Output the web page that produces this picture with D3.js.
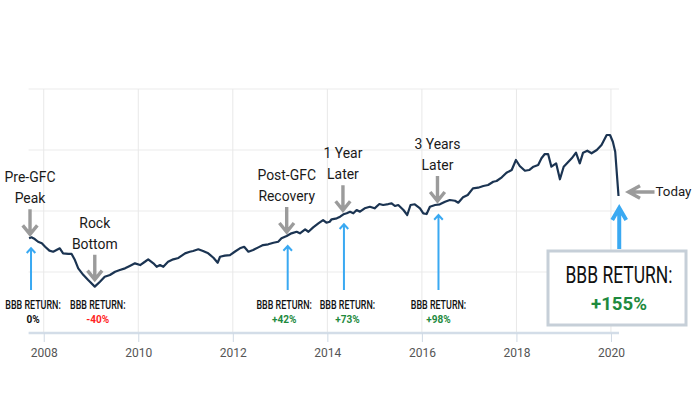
<!DOCTYPE html>
<html><head><meta charset="utf-8">
<script src="https://cdn.jsdelivr.net/npm/d3@7"></script>
<style>body{margin:0;background:#fff}svg{display:block;font-family:Roboto,"Liberation Sans",sans-serif}</style>
</head><body>
<svg id="c" width="700" height="400"></svg>
<script>
const dates = [2007.69,2007.74,2007.81,2007.88,2007.96,2008.03,2008.12,2008.20,2008.27,2008.34,2008.41,2008.52,2008.59,2008.66,2008.73,2008.84,2008.94,2009.08,2009.19,2009.29,2009.40,2009.51,2009.61,2009.72,2009.82,2009.93,2010.04,2010.14,2010.21,2010.32,2010.39,2010.46,2010.53,2010.63,2010.74,2010.85,2010.99,2011.09,2011.16,2011.27,2011.37,2011.48,2011.59,2011.68,2011.73,2011.83,2011.94,2012.04,2012.15,2012.24,2012.33,2012.43,2012.54,2012.64,2012.75,2012.86,2012.96,2013.03,2013.14,2013.24,2013.35,2013.42,2013.53,2013.60,2013.70,2013.81,2013.91,2013.98,2014.05,2014.09,2014.20,2014.27,2014.34,2014.41,2014.48,2014.55,2014.62,2014.69,2014.79,2014.90,2015.00,2015.10,2015.18,2015.29,2015.36,2015.43,2015.50,2015.61,2015.69,2015.76,2015.85,2015.96,2016.03,2016.10,2016.17,2016.28,2016.38,2016.49,2016.59,2016.70,2016.77,2016.87,2016.97,2017.08,2017.19,2017.30,2017.40,2017.51,2017.58,2017.69,2017.79,2017.90,2017.99,2018.07,2018.18,2018.27,2018.36,2018.46,2018.53,2018.60,2018.67,2018.74,2018.84,2018.92,2019.00,2019.10,2019.17,2019.26,2019.34,2019.41,2019.50,2019.59,2019.70,2019.80,2019.91,2019.98,2020.04,2020.09,2020.16];
const values = [77.6,78.4,77.0,74.8,73.5,70.7,67.5,66.6,68.0,69.4,65.3,64.8,64.8,59.8,53.0,47.5,43.4,38.0,42.0,46.1,47.5,50.2,51.6,53.0,54.9,57.1,55.7,58.4,60.4,57.1,54.3,55.7,54.3,58.4,60.4,61.5,65.3,66.6,67.2,68.6,67.2,65.3,61.7,57.6,62.5,63.4,63.9,66.6,69.4,70.7,66.6,68.0,70.2,72.1,72.7,74.0,74.8,77.6,79.5,81.7,83.0,81.7,85.0,83.0,86.6,89.9,92.6,90.4,91.2,93.2,94.0,95.3,97.3,98.1,99.4,98.1,100.8,99.4,102.2,103.5,102.2,105.7,104.9,105.7,106.3,104.1,104.9,100.8,96.7,104.9,105.5,102.2,98.1,97.5,103.5,104.9,105.5,107.6,109.0,108.4,106.8,111.2,113.1,118.6,119.1,120.5,121.3,124.0,124.6,127.6,131.4,133.6,141.8,136.9,133.0,133.6,136.3,137.7,143.2,146.7,146.7,136.3,139.1,126.0,136.3,140.4,143.2,147.8,139.1,147.8,149.4,147.3,150.0,154.1,162.3,162.3,156.8,148.6,112.3];
const tickYears = [2008,2010,2012,2014,2016,2018,2020];
const gridValues = [0,50,100,150,200];
const annotationLabels = [["Pre-GFC","Peak"],["Rock","Bottom"],["Post-GFC","Recovery"],["1 Year","Later"],["3 Years","Later"]];
const annotationDates = [2007.71,2009.08,2013.14,2014.33,2016.33];
const annotationReturns = ["0%","-40%","+42%","+73%","+98%"];
const annotationColors = ["#111111","#ff1f1f","#1e8a3e","#1e8a3e","#1e8a3e"];
const annotationBlue = [true,false,true,true,true];
const finalReturn = "+155%";
const todayLabel = "Today";
const returnTitle = "BBB RETURN:";

// style: horizontal nudge of the return labels relative to their arrows
const labelShift = [3,3,-2.5,4.5,1];

const svg = d3.select("#c");
const x = d3.scaleLinear().domain([2007.68,2020.17]).range([28.6,619]);
const y = d3.scaleLinear().domain([0,200]).range([333,89]);
const data = dates.map((d,i)=>({d, v:values[i]}));
const bis = d3.bisector(p=>p.d).center;
const valAt = t => data[bis(data,t)].v;

const GREY = "#9b9b9b", BLUE = "#3aa9f2";

// grid
svg.append("g").selectAll("line").data(gridValues.slice(1)).join("line")
  .attr("x1",x.range()[0]).attr("x2",x.range()[1])
  .attr("y1",d=>y(d)).attr("y2",d=>y(d))
  .attr("stroke","#ebebeb").attr("stroke-width",1);
svg.append("g").selectAll("line").data(tickYears).join("line")
  .attr("x1",d=>x(d)).attr("x2",d=>x(d)).attr("y1",y(200)).attr("y2",y(0))
  .attr("stroke","#e8e8e8").attr("stroke-width",1);

// x axis
const ax = svg.append("g").attr("transform",`translate(0,${y(0)})`)
  .call(d3.axisBottom(x).tickValues(tickYears).tickFormat(d3.format("d")).tickSize(9).tickPadding(6));
ax.select(".domain").attr("stroke","#d3dde8").attr("stroke-width",2.5).attr("d",`M${x.range()[0]},0H${x.range()[1]}`);
ax.selectAll(".tick line").attr("stroke","#cfd9e4").attr("stroke-width",1);
ax.selectAll(".tick text").attr("fill","#555").attr("font-size",12).attr("font-family","Roboto");

// line
svg.append("path").datum(data)
  .attr("d",d3.line().x(p=>x(p.d)).y(p=>y(p.v)))
  .attr("fill","none").attr("stroke","#1b3452").attr("stroke-width",2.2).attr("stroke-linejoin","round");

function txt(g,str,cx,cy,size,sx,opts={}){
  return g.append("text").text(str)
    .attr("transform",`translate(${cx},${cy}) scale(${sx},1)`)
    .attr("text-anchor",opts.anchor||"middle")
    .attr("font-size",size).attr("font-weight",opts.weight||400)
    .attr("fill",opts.fill||"#111");
}
function greyDown(g,cx,tip){
  g.append("path").attr("d",`M${cx},${tip-25}V${tip} M${cx-7.3},${tip-9}L${cx},${tip}L${cx+7.3},${tip-9}`)
   .attr("fill","none").attr("stroke",GREY).attr("stroke-width",3.4).attr("stroke-linejoin","miter");
}
function blueUp(g,cx,tip,bottom,w,hw,hh){
  g.append("path").attr("d",`M${cx},${bottom}V${tip} M${cx-hw},${tip+hh}L${cx},${tip}L${cx+hw},${tip+hh}`)
   .attr("fill","none").attr("stroke",BLUE).attr("stroke-width",w);
}

const ann = svg.append("g");
annotationLabels.forEach((lines,i)=>{
  const t = annotationDates[i];
  const cx = x(t), cy = y(valAt(t));
  const gTip = cy - (i===1?7:4);
  greyDown(ann,cx,gTip);
  const lastB = gTip - 31;
  lines.forEach((s,j)=> txt(ann,s,cx,lastB-(lines.length-1-j)*21,15,0.93,{fill:"#1a1a1a"}));
  if(annotationBlue[i]) blueUp(ann,cx+1,cy+10,290,2,4.3,4.7);
  txt(ann,returnTitle,cx+labelShift[i],309,12.4,0.72,{weight:500,fill:"#111"});
  txt(ann,annotationReturns[i],cx+labelShift[i],323.3,10.6,0.95,{weight:700,fill:annotationColors[i]});
});

// today
const last = data[data.length-1];
const lx = x(last.d), ly = y(last.v);
ann.append("path").attr("d",`M${lx+36},${ly-4}H${lx+10} M${lx+21.5},${ly-10.3}L${lx+10},${ly-4}L${lx+21.5},${ly+2.3}`)
  .attr("fill","none").attr("stroke",GREY).attr("stroke-width",3.4);
txt(ann,todayLabel,lx+37,ly,13.6,0.98,{anchor:"start",fill:"#1a1a1a"});
blueUp(ann,lx+0.7,ly+12,249,4,7,12);
ann.append("rect").attr("x",548).attr("y",251).attr("width",138).attr("height",74)
  .attr("fill","#fff").attr("stroke","#c6cfd8").attr("stroke-width",3);
txt(ann,returnTitle,619,283.3,23,0.76,{fill:"#111"});
txt(ann,finalReturn,619,310,19,0.98,{weight:700,fill:"#1e8a3e"});
</script>
</body></html>
